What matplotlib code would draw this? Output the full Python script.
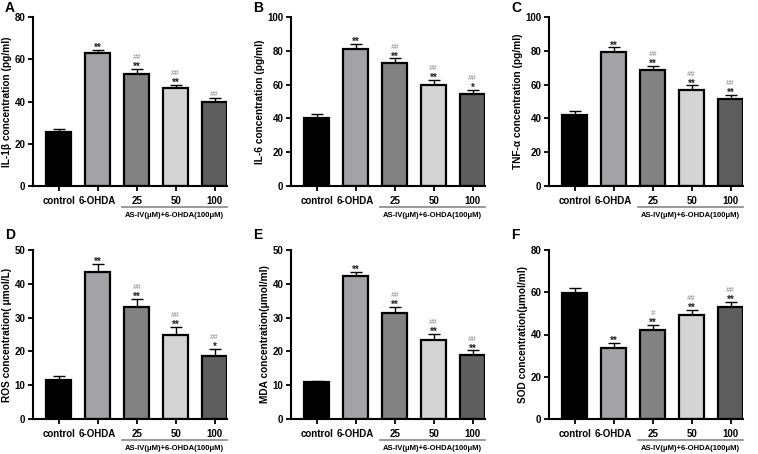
import matplotlib
matplotlib.use('Agg')
import matplotlib.pyplot as plt
import numpy as np

plt.rcParams['font.family'] = ['Liberation Sans', 'DejaVu Sans']
plt.rcParams['font.weight'] = 'bold'

# Groups and bar colours
groups = ['control', '6-OHDA', '25', '50', '100']
colors = ['#000000', '#a3a3a7', '#828282', '#d4d4d4', '#5e5e5e']

# Panel values (mean, error)
il1b = [25.5, 63.0, 53.0, 46.5, 40.0]
il1b_err = [1.3, 1.5, 2.5, 1.5, 1.5]
il6 = [40.0, 81.0, 73.0, 60.0, 54.5]
il6_err = [2.5, 3.0, 2.5, 3.0, 2.5]
tnf = [42.0, 79.5, 68.5, 57.0, 51.5]
tnf_err = [2.5, 2.5, 2.5, 2.5, 2.5]
ros = [11.5, 43.5, 33.2, 25.0, 18.5]
ros_err = [1.3, 2.5, 2.3, 2.2, 2.3]
mda = [10.8, 42.2, 31.5, 23.5, 18.8]
mda_err = [0.5, 1.3, 1.7, 1.6, 1.5]
sod = [59.5, 33.5, 42.0, 49.0, 53.0]
sod_err = [2.5, 2.5, 2.5, 2.5, 2.5]

# Significance marks: stars, with hashes above
stars_A = ['', '**', '**', '**', '']
hash_A = ['', '', '##', '##', '##']
stars_B = ['', '**', '**', '**', '*']
hash_B = ['', '', '##', '##', '##']
stars_C = ['', '**', '**', '**', '**']
hash_C = ['', '', '##', '##', '##']
stars_D = ['', '**', '**', '**', '*']
hash_D = ['', '', '##', '##', '##']
stars_E = ['', '**', '**', '**', '**']
hash_E = ['', '', '##', '##', '##']
stars_F = ['', '**', '**', '**', '**']
hash_F = ['', '', '#', '##', '##']

panels = [
    ('A', il1b, il1b_err, stars_A, hash_A, 80, 20, 'IL-1β concentration (pg/ml)'),
    ('B', il6, il6_err, stars_B, hash_B, 100, 20, 'IL-6 concentration (pg/ml)'),
    ('C', tnf, tnf_err, stars_C, hash_C, 100, 20, 'TNF-α concentration (pg/ml)'),
    ('D', ros, ros_err, stars_D, hash_D, 50, 10, 'ROS concentration( μmol/L)'),
    ('E', mda, mda_err, stars_E, hash_E, 50, 10, 'MDA concentration(μmol/ml)'),
    ('F', sod, sod_err, stars_F, hash_F, 80, 20, 'SOD concentration(μmol/ml)'),
]

W, H = 758, 454
fig = plt.figure(figsize=(W / 100, H / 100), dpi=100)

lefts = [33, 291, 549]
tops = [17, 250]
letter_x = [5, 253, 511]
letter_y = [8, 235]
aw, ah = 194, 169

for i, (letter, vals, errs, stars, hashes, ymax, step, ylab) in enumerate(panels):
    r, c = divmod(i, 3)
    l = lefts[c]
    t = tops[r]
    ax = fig.add_axes([l / W, 1 - (t + ah) / H, aw / W, ah / H])
    x = np.arange(len(groups))
    ax.bar(x, vals, width=0.64, color=colors, edgecolor='black', linewidth=1.6, zorder=2)
    ax.errorbar(x, vals, yerr=[np.zeros(len(vals)), errs], fmt='none',
                ecolor='black', elinewidth=1.0, capsize=4, capthick=1.0, zorder=1)
    ax.set_xlim(-0.66, 4.32)
    ax.set_ylim(0, ymax)
    ax.set_yticks(np.arange(0, ymax + 1, step))
    ax.set_xticks(x)
    ax.set_xticklabels(groups, fontsize=7, fontweight='bold')
    for lab in ax.get_yticklabels():
        lab.set_fontsize(7)
        lab.set_fontweight('bold')
    ax.tick_params(axis='both', direction='out', length=3.5, width=1.3, pad=2)
    ax.tick_params(axis='x', pad=4)
    for s in ['top', 'right']:
        ax.spines[s].set_visible(False)
    for s in ['left', 'bottom']:
        ax.spines[s].set_linewidth(1.5)
    ax.set_ylabel(ylab, fontsize=7.3, fontweight='bold', labelpad=1.5)

    # significance marks, offsets in points above the error bar top
    for xi, v, e, st, hs in zip(x, vals, errs, stars, hashes):
        dy = 0.0
        if st:
            ax.annotate(st, (xi, v + e), xytext=(0, -0.7), textcoords='offset points',
                        ha='center', va='baseline', fontsize=7,
                        color='#222222', fontweight='bold')
            dy = 7.0
        else:
            dy = 1.5
        if hs:
            ax.annotate(hs, (xi, v + e), xytext=(0, dy), textcoords='offset points',
                        ha='center', va='baseline', fontsize=5.5,
                        color='#808080', style='italic', fontweight='normal')

    # group bracket under the treatment bars
    ax.plot([1.63, 4.32], [-0.125, -0.125], transform=ax.get_xaxis_transform(),
            color='#888888', lw=1.2, clip_on=False)
    ax.text(2.98, -0.155, 'AS-IV(μM)+6-OHDA(100μM)', transform=ax.get_xaxis_transform(),
            ha='center', va='top', fontsize=5.5, fontweight='bold')

    fig.text(letter_x[c] / W, 1 - letter_y[r] / H, letter, fontsize=10, fontweight='bold',
             ha='left', va='center')

fig.savefig('out.png', dpi=100)
